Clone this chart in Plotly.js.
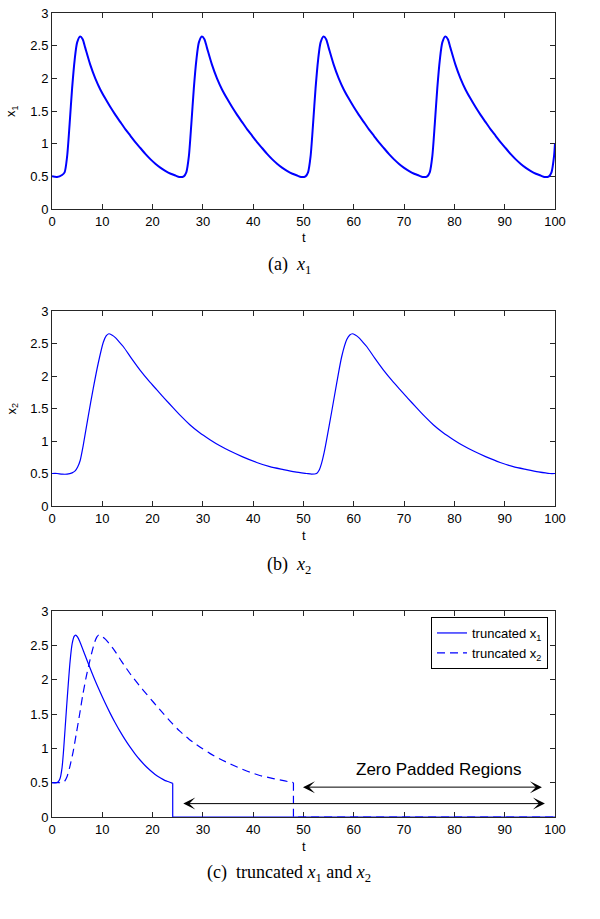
<!DOCTYPE html>
<html>
<head>
<meta charset="utf-8">
<script src="https://cdn.plot.ly/plotly-3.0.1.min.js"></script>
<style>html,body{margin:0;padding:0;background:#fff;}#chart{width:600px;height:919px;}</style>
</head>
<body>
<div id="chart"></div>
<script>
// ---- (a) x1 ----
const t1 = [0, 1, 2, 2.5, 3, 3.5, 4, 4.5, 5, 5.6, 6.1, 6.6, 7.6, 8.6, 9.6, 10.6, 11.6, 12.6, 13.6, 14.6, 15.6, 16.6, 17.6, 18.6, 19.6, 20.6, 21.6, 22.6, 23.6, 24.6, 25.3, 26.2,
  26.7, 27.2, 27.7, 28.2, 28.7, 29.2, 29.8, 30.3, 30.8, 31.8, 32.8, 33.8, 34.8, 35.8, 36.8, 37.8, 38.8, 39.8, 40.8, 41.8, 42.8, 43.8, 44.8, 45.8, 46.8, 47.8, 48.8, 49.5, 50.4,
  50.9, 51.4, 51.9, 52.4, 52.9, 53.4, 54.0, 54.5, 55.0, 56.0, 57.0, 58.0, 59.0, 60.0, 61.0, 62.0, 63.0, 64.0, 65.0, 66.0, 67.0, 68.0, 69.0, 70.0, 71.0, 72.0, 73.0, 73.7, 74.6,
  75.1, 75.6, 76.1, 76.6, 77.1, 77.6, 78.2, 78.7, 79.2, 80.2, 81.2, 82.2, 83.2, 84.2, 85.2, 86.2, 87.2, 88.2, 89.2, 90.2, 91.2, 92.2, 93.2, 94.2, 95.2, 96.2, 97.2, 97.9, 98.8, 99.3, 99.8, 100];
const x1 = [0.50, 0.49, 0.52, 0.56, 0.80, 1.30, 1.85, 2.28, 2.55, 2.64, 2.60, 2.47, 2.21, 2.00, 1.83, 1.69, 1.56, 1.44, 1.33, 1.22, 1.12, 1.02, 0.93, 0.84, 0.76, 0.69, 0.63, 0.58, 0.54, 0.51, 0.49, 0.50,
  0.56, 0.80, 1.30, 1.85, 2.28, 2.55, 2.64, 2.60, 2.47, 2.21, 2.00, 1.83, 1.69, 1.56, 1.44, 1.33, 1.22, 1.12, 1.02, 0.93, 0.84, 0.76, 0.69, 0.63, 0.58, 0.54, 0.51, 0.49, 0.50,
  0.56, 0.80, 1.30, 1.85, 2.28, 2.55, 2.64, 2.60, 2.47, 2.21, 2.00, 1.83, 1.69, 1.56, 1.44, 1.33, 1.22, 1.12, 1.02, 0.93, 0.84, 0.76, 0.69, 0.63, 0.58, 0.54, 0.51, 0.49, 0.50,
  0.56, 0.80, 1.30, 1.85, 2.28, 2.55, 2.64, 2.60, 2.47, 2.21, 2.00, 1.83, 1.69, 1.56, 1.44, 1.33, 1.22, 1.12, 1.02, 0.93, 0.84, 0.76, 0.69, 0.63, 0.58, 0.54, 0.51, 0.49, 0.50, 0.56, 0.80, 1.00];

// ---- (b) x2 ----
const t2 = [0, 1, 2, 3, 4, 4.6, 5.1, 5.6, 6.2, 7.2, 8.2, 9.2, 10.2, 10.8, 11.3,
  11.9, 12.6, 13.3, 14.2, 15.8, 17.5, 19.3, 20.8, 22.3, 24.1, 25.8, 27.4, 29.3, 31.4, 33.3, 35.4, 37.8, 40.7, 43.3, 46.0, 48.3, 50.6, 51.6,
  52.6, 53.1, 53.6, 54.1, 54.6, 55.6, 56.6, 57.6, 58.6, 59.2, 59.7,
  60.3, 61.0, 61.7, 62.6, 64.2, 65.9, 67.7, 69.2, 70.7, 72.5, 74.2, 75.8, 77.7, 79.8, 81.7, 83.8, 86.2, 89.1, 91.7, 94.4, 96.7, 99.0, 100];
const x2 = [0.50, 0.50, 0.49, 0.49, 0.51, 0.54, 0.60, 0.70, 0.93, 1.38, 1.81, 2.20, 2.52, 2.62, 2.65,
  2.63, 2.59, 2.53, 2.45, 2.27, 2.09, 1.92, 1.79, 1.66, 1.51, 1.37, 1.25, 1.13, 1.02, 0.93, 0.845, 0.76, 0.67, 0.605, 0.56, 0.525, 0.50, 0.49,
  0.50, 0.55, 0.66, 0.82, 1.02, 1.45, 1.89, 2.30, 2.56, 2.63, 2.65,
  2.63, 2.59, 2.53, 2.45, 2.27, 2.09, 1.92, 1.79, 1.66, 1.51, 1.37, 1.25, 1.13, 1.02, 0.93, 0.845, 0.76, 0.67, 0.605, 0.56, 0.525, 0.50, 0.50];

// ---- (c) truncated x1 and x2 ----
const tTr1 = [0, 0.9, 1.3, 1.6, 2.0, 2.3, 2.9, 3.6, 4.0, 4.4, 4.7, 5.1, 5.5, 6.5, 7.5, 8.5, 9.5, 10.5, 11.5, 12.5, 13.5, 14.5, 15.5, 16.5, 17.5, 18.5, 19.5, 20.5, 21.5, 22.5, 23.3, 24.0];
const xTr1 = [0.50, 0.50, 0.52, 0.56, 0.72, 0.97, 1.60, 2.27, 2.52, 2.63, 2.65, 2.62, 2.56, 2.37, 2.18, 2.00, 1.83, 1.67, 1.52, 1.38, 1.25, 1.13, 1.02, 0.92, 0.83, 0.75, 0.68, 0.62, 0.57, 0.53, 0.51, 0.49];
const tPad1 = [24.0, 24.0, 100];
const xPad1 = [0.49, 0, 0];
const tTr2 = [0, 1, 2, 2.5, 3.0, 3.5, 4.2, 4.8, 5.5, 6.1, 6.8, 7.5, 8.0, 8.5, 8.9, 9.3, 9.9, 10.6, 11.3, 12.2, 13.8, 15.5, 17.3, 18.8, 20.3, 22.1, 23.8, 25.4, 27.3, 29.4, 31.3, 33.4, 35.8, 38.7, 41.3, 44.0, 46.3, 48.0];
const xTr2 = [0.50, 0.50, 0.50, 0.52, 0.59, 0.72, 0.95, 1.20, 1.50, 1.77, 2.04, 2.27, 2.42, 2.55, 2.62, 2.65, 2.63, 2.59, 2.53, 2.45, 2.27, 2.09, 1.92, 1.79, 1.66, 1.51, 1.37, 1.25, 1.13, 1.02, 0.93, 0.845, 0.76, 0.67, 0.605, 0.56, 0.525, 0.50];
const tPad2 = [48.0, 48.0, 100];
const xPad2 = [0.50, 0, 0];

// arrows [xStart, xEnd, y] and label
const arrowUpper = [49.6, 97.4, 0.435];
const arrowLower = [25.8, 98.0, 0.195];
const arrowLabel = {text: 'Zero Padded Regions', x: 76.9, y: 0.69};

const legendNames = ['truncated x<sub>1</sub>', 'truncated x<sub>2</sub>'];
const captions = ['(a)&nbsp;&nbsp;<i>x</i><sub>1</sub>', '(b)&nbsp;&nbsp;<i>x</i><sub>2</sub>', '(c)&nbsp;&nbsp;truncated <i>x</i><sub>1</sub> and <i>x</i><sub>2</sub>'];
const yTitles = ['x<sub>1</sub>', 'x<sub>2</sub>'];
const xTitle = 't';

const BLUE = '#0000ff';
const SANS = 'Liberation Sans, Arial, Helvetica, sans-serif';
const SERIF = 'Liberation Serif, Times New Roman, serif';
const DASH = '8px,5px';

const traces = [
  {x: t1, y: x1, xaxis: 'x', yaxis: 'y', mode: 'lines', line: {color: BLUE, width: 2, shape: 'spline', smoothing: 0.7}, showlegend: false, hoverinfo: 'skip'},
  {x: t2, y: x2, xaxis: 'x2', yaxis: 'y2', mode: 'lines', line: {color: BLUE, width: 1.2, shape: 'spline', smoothing: 0.7}, showlegend: false, hoverinfo: 'skip'},
  {x: tTr1, y: xTr1, xaxis: 'x3', yaxis: 'y3', mode: 'lines', name: legendNames[0], legendgroup: 'a', line: {color: BLUE, width: 1.2, shape: 'spline', smoothing: 0.7}},
  {x: tPad1, y: xPad1, xaxis: 'x3', yaxis: 'y3', mode: 'lines', legendgroup: 'a', showlegend: false, line: {color: BLUE, width: 1.2}},
  {x: tTr2, y: xTr2, xaxis: 'x3', yaxis: 'y3', mode: 'lines', name: legendNames[1], legendgroup: 'b', line: {color: BLUE, width: 1.2, dash: DASH, shape: 'spline', smoothing: 0.7}},
  {x: tPad2, y: xPad2, xaxis: 'x3', yaxis: 'y3', mode: 'lines', legendgroup: 'b', showlegend: false, line: {color: BLUE, width: 1.2, dash: DASH}}
];

function px(x){ return x/600; }
function py(y){ return 1 - y/919; }

const tickFontObj = {family: SANS, size: 13, color: '#000'};
const xDom = [px(52), px(555)];
function xAx(anchor){
  return {domain: xDom, anchor: anchor, range: [0, 100], dtick: 10, tick0: 0, ticks: 'inside', ticklen: 5, tickwidth: 1,
    tickcolor: '#262626', showline: true, linecolor: '#262626', linewidth: 1, mirror: 'ticks', showgrid: false, zeroline: false,
    tickfont: tickFontObj, fixedrange: true, layer: 'below traces'};
}
function yAx(anchor, top, bottom){
  return {domain: [py(bottom), py(top)], anchor: anchor, range: [0, 3], dtick: 0.5, tick0: 0, ticks: 'inside', ticklen: 5, tickwidth: 1,
    tickcolor: '#262626', showline: true, linecolor: '#262626', linewidth: 1, mirror: 'ticks', showgrid: false, zeroline: false,
    tickfont: tickFontObj, fixedrange: true, layer: 'below traces'};
}

function pa(text, x, y, font, extra){
  return Object.assign({text: text, xref: 'paper', yref: 'paper', x: px(x), y: py(y), xanchor: 'center', yanchor: 'middle', showarrow: false, font: font}, extra || {});
}
const titleFont = {family: SANS, size: 13, color: '#000'};
const capFont = {family: SERIF, size: 18, color: '#000'};

function arrowAnn(a){
  return {xref: 'x3', yref: 'y3', axref: 'x3', ayref: 'y3', x: a[1], y: a[2], ax: a[0], ay: a[2], text: '', showarrow: true,
    arrowhead: 3, startarrowhead: 3, arrowside: 'end+start', arrowsize: 2, startarrowsize: 2, arrowwidth: 1, arrowcolor: '#000', standoff: 0, startstandoff: 0};
}

const annotations = [
  pa(xTitle, 303.5, 237, titleFont),
  pa(xTitle, 303.5, 535, titleFont),
  pa(xTitle, 303.5, 846, titleFont),
  pa(yTitles[0], 12, 111, titleFont, {textangle: -90}),
  pa(yTitles[1], 12, 408.5, titleFont, {textangle: -90}),
  pa(captions[0], 289, 265, capFont),
  pa(captions[1], 289, 565, capFont),
  pa(captions[2], 289, 873, capFont),
  arrowAnn(arrowUpper),
  arrowAnn(arrowLower),
  {xref: 'x3', yref: 'y3', x: arrowLabel.x, y: arrowLabel.y, text: arrowLabel.text, showarrow: false, xanchor: 'center', yanchor: 'middle', font: {family: SANS, size: 17, color: '#000'}}
];

const layout = {
  width: 600, height: 919,
  margin: {l: 0, r: 0, t: 0, b: 0},
  paper_bgcolor: '#fff', plot_bgcolor: '#fff',
  showlegend: true,
  legend: {x: px(548), y: py(617), xanchor: 'right', yanchor: 'top', bordercolor: '#000', borderwidth: 1, bgcolor: '#fff',
    font: {family: SANS, size: 13, color: '#000'}, tracegroupgap: 0},
  xaxis: xAx('y'), yaxis: yAx('x', 13, 209),
  xaxis2: xAx('y2'), yaxis2: yAx('x2', 311, 506),
  xaxis3: xAx('y3'), yaxis3: yAx('x3', 611, 817),
  annotations: annotations
};

Plotly.newPlot('chart', traces, layout, {displayModeBar: false, staticPlot: true});
</script>
</body>
</html>
